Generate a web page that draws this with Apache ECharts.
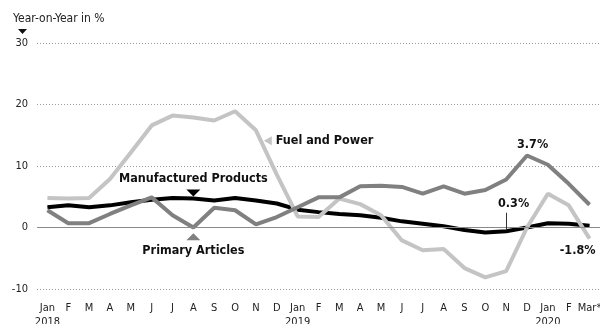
<!DOCTYPE html>
<html>
<head>
<meta charset="utf-8">
<script src="https://cdn.jsdelivr.net/npm/echarts@6/dist/echarts.min.js"></script>
<style>
  html, body { margin: 0; padding: 0; background: #fff; }
  #chart { width: 600px; height: 324px; }
</style>
</head>
<body>
<div id="chart"></div>
<script>
// Wholesale price index, year-on-year change in %
const periods = ['2018-01','2018-02','2018-03','2018-04','2018-05','2018-06','2018-07','2018-08','2018-09','2018-10','2018-11','2018-12',
                 '2019-01','2019-02','2019-03','2019-04','2019-05','2019-06','2019-07','2019-08','2019-09','2019-10','2019-11','2019-12',
                 '2020-01','2020-02','2020-03'];
const monthLabels = ['Jan','F','M','A','M','J','J','A','S','O','N','D',
                     'Jan','F','M','A','M','J','J','A','S','O','N','D',
                     'Jan','F','Mar*'];
const yearLabels = { 0: '2018', 12: '2019', 24: '2020' };

const fuelAndPower = [4.8, 4.7, 4.8, 7.9, 12.2, 16.6, 18.2, 17.9, 17.4, 18.9, 15.8, 8.6,
                      1.8, 1.7, 4.7, 3.8, 2.0, -2.1, -3.7, -3.5, -6.6, -8.1, -7.1, 0.0,
                      5.5, 3.6, -1.8];
const primaryArticles = [2.8, 0.7, 0.7, 2.2, 3.6, 4.9, 2.0, 0.0, 3.2, 2.8, 0.5, 1.7,
                         3.3, 4.9, 4.9, 6.7, 6.8, 6.6, 5.5, 6.7, 5.5, 6.1, 7.8, 11.7,
                         10.2, 7.1, 3.7];
const manufacturedProducts = [3.3, 3.6, 3.3, 3.6, 4.1, 4.5, 4.8, 4.7, 4.4, 4.8, 4.4, 3.9,
                              2.9, 2.5, 2.2, 2.0, 1.6, 1.0, 0.6, 0.2, -0.4, -0.8, -0.6, 0.0,
                              0.7, 0.6, 0.3];
const yTicks = [-10, 0, 10, 20, 30];

const COLOR_FUEL = '#c4c4c4';
const COLOR_PRIMARY = '#808080';
const COLOR_MANUF = '#000000';
const FONT = '"DejaVu Sans Condensed", "Liberation Sans Narrow", "Roboto", sans-serif';
const last = periods.length - 1;

const boldLabel = {
  fontFamily: FONT, fontWeight: 'bold', fontSize: 12.5, color: '#111'
};
const pct = v => v.toFixed(1) + '%';

const chart = echarts.init(document.getElementById('chart'), null, { renderer: 'canvas' });

chart.setOption({
  animation: false,
  backgroundColor: '#fff',
  title: {
    text: 'Year-on-Year in %',
    left: 8, top: 8,
    textStyle: { fontFamily: FONT, fontSize: 12, fontWeight: 'normal', color: '#222' }
  },
  graphic: [{
    type: 'polygon',
    shape: { points: [[18, 29], [27, 29], [22.5, 34]] },
    style: { fill: '#111' }
  }],
  grid: { left: 37, right: 0, top: 43, bottom: 35, outerBoundsMode: 'none', containLabel: false },
  xAxis: {
    type: 'category',
    data: periods,
    boundaryGap: true,
    axisLine: { show: false, onZero: false },
    axisTick: { show: false },
    axisLabel: {
      interval: 0,
      margin: 12,
      fontFamily: FONT, fontSize: 11, color: '#222', lineHeight: 14,
      formatter: (v, i) => monthLabels[i] + (yearLabels[i] ? '\n' + yearLabels[i] : '')
    },
    splitLine: { show: false }
  },
  yAxis: {
    type: 'value',
    min: yTicks[0], max: yTicks[yTicks.length - 1], interval: 10,
    axisLine: { show: false },
    axisTick: { show: false },
    axisLabel: { margin: 9, fontFamily: FONT, fontSize: 11, color: '#222' },
    splitLine: { lineStyle: { type: [1, 2], color: '#9a9a9a', width: 1 } }
  },
  series: [
    {
      name: 'Manufactured Products',
      type: 'line',
      data: manufacturedProducts,
      symbol: 'none',
      lineStyle: { color: COLOR_MANUF, width: 4 },
      z: 2,
      markLine: {
        silent: true, symbol: 'none',
        label: { show: false },
        data: [
          { yAxis: 0, lineStyle: { color: '#8a8a8a', width: 1.2, type: 'solid' } },
          [{ coord: [22, -0.4], lineStyle: { color: '#333', width: 1, type: 'solid' } }, { coord: [22, 2.4] }]
        ]
      },
      markPoint: {
        silent: true,
        data: [
          {
            coord: [7, 5.6], symbol: 'triangle', symbolRotate: 180, symbolSize: [14, 7],
            itemStyle: { color: COLOR_MANUF },
            label: { show: true, position: 'top', distance: 4, formatter: 'Manufactured Products', ...boldLabel }
          },
          {
            coord: [last, manufacturedProducts[last]], symbolSize: 0,
            label: { show: true, offset: [-76, -22], formatter: pct(manufacturedProducts[last]), ...boldLabel }
          }
        ]
      }
    },
    {
      name: 'Fuel and Power',
      type: 'line',
      data: fuelAndPower,
      symbol: 'none',
      lineStyle: { color: COLOR_FUEL, width: 4 },
      z: 3,
      markPoint: {
        silent: true,
        data: [
          {
            coord: [11, 14.1], symbol: 'triangle', symbolRotate: 90, symbolSize: [9, 8],
            symbolOffset: [-9, 0],
            itemStyle: { color: COLOR_FUEL },
            label: { show: true, position: 'right', distance: 4, formatter: 'Fuel and Power', ...boldLabel }
          },
          {
            coord: [last, fuelAndPower[last]], symbolSize: 0,
            label: { show: true, offset: [-12, 12], formatter: pct(fuelAndPower[last]), ...boldLabel }
          }
        ]
      }
    },
    {
      name: 'Primary Articles',
      type: 'line',
      data: primaryArticles,
      symbol: 'none',
      lineStyle: { color: COLOR_PRIMARY, width: 4 },
      z: 4,
      markPoint: {
        silent: true,
        data: [
          {
            coord: [7, -1.5], symbol: 'triangle', symbolSize: [14, 7],
            itemStyle: { color: COLOR_PRIMARY },
            label: { show: true, position: 'bottom', distance: 4, formatter: 'Primary Articles', ...boldLabel }
          },
          {
            coord: [last, primaryArticles[last]], symbolSize: 0,
            label: { show: true, offset: [-57, -60], formatter: pct(primaryArticles[last]), ...boldLabel }
          }
        ]
      }
    }
  ]
});
</script>
</body>
</html>
